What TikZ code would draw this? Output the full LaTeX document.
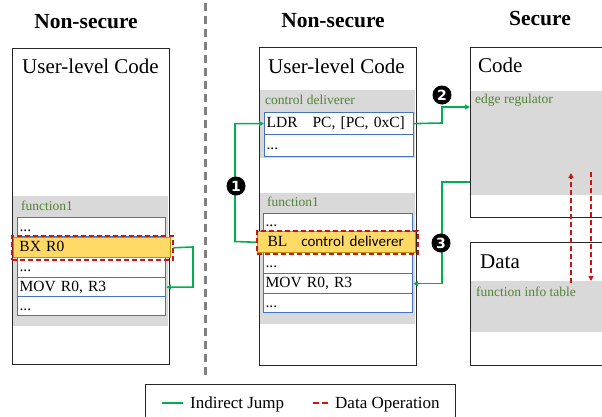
\documentclass[tikz,border=0pt]{standalone}
\usepackage{fontspec}
\setmainfont{Liberation Serif}
\newfontfamily\calfont{Carlito}
\newfontfamily\numfont{DejaVu Sans}
\usetikzlibrary{arrows.meta}
\definecolor{gbg}{RGB}{217,217,217}
\definecolor{rowblue}{RGB}{68,114,196}
\definecolor{lblgreen}{RGB}{84,130,53}
\definecolor{jump}{RGB}{0,176,80}
\definecolor{dataop}{RGB}{204,20,20}
\definecolor{hlfill}{RGB}{255,217,102}
\definecolor{hldraw}{RGB}{191,144,0}
\definecolor{divider}{RGB}{128,128,128}
\begin{document}
\begin{tikzpicture}[x=1pt,y=-1pt,
  panel/.style={draw=black!85, line width=1.4pt, fill=white, anchor=north west, inner sep=0pt},
  region/.style={fill=gbg, draw=none, anchor=north west, inner sep=0pt},
  row/.style={draw=rowblue, line width=1.2pt, fill=white, anchor=north west,
    inner xsep=2pt, inner ysep=0pt, text height=11pt, text depth=3pt, align=left,
    font=\fontsize{15.5}{15.5}\selectfont},
  hlbox/.style={fill=hlfill, draw=hldraw, line width=1pt, anchor=north west,
    inner xsep=6pt, inner ysep=0pt, text height=11pt, text depth=3pt, align=left,
    font=\fontsize{15.5}{15.5}\selectfont},
  redbox/.style={draw=dataop, line width=1.5pt, dash pattern=on 5pt off 3pt, anchor=north west, inner sep=0pt},
  title/.style={anchor=base, inner sep=0pt, font=\bfseries\fontsize{21.5}{21.5}\selectfont},
  head/.style={anchor=base west, inner sep=0pt, font=\fontsize{21}{21}\selectfont},
  glabel/.style={anchor=base west, text=lblgreen, font=\fontsize{13.5}{13.5}\selectfont, inner sep=0pt},
  jumpline/.style={draw=jump, line width=1.6pt},
  jumparrow/.style={jumpline, -{Triangle[length=5pt,width=5pt]}},
  dataline/.style={draw=dataop, line width=1.5pt, dash pattern=on 5pt off 3pt, -{Triangle[length=5pt,width=5pt]}},
  numcirc/.style={circle, fill=black, text=white, inner sep=0pt, minimum size=19pt,
    font=\numfont\bfseries\fontsize{14}{14}\selectfont},
  legtext/.style={anchor=base west, font=\fontsize{17}{17}\selectfont, inner sep=0pt}
]
\useasboundingbox (0,0) rectangle (602,416);

% titles
\node[title] (t1) at (86,28) {Non-secure};
\node[title] (t2) at (333,27) {Non-secure};
\node[title] (t3) at (540,25) {Secure};

% divider
\draw[divider, line width=3pt, dash pattern=on 8pt off 5pt] (205,3) -- (205,377);

% ---------- left panel ----------
\node[panel, minimum width=157pt, minimum height=316pt] (lpanel) at (12,48) {};
\node[head] (lhead) at (22,73) {User-level Code};
\node[region, minimum width=155pt, minimum height=130pt] (lreg) at (13,196) {};
\node[glabel] (lf1) at (21,210) {function1};
\node[row, text width=144pt, minimum height=19pt] (l1) at (17,217) {...};
\node[row, text width=144pt, minimum height=21pt] (l2) at (17,236) {};
\node[row, text width=144pt, minimum height=20pt] (l3) at (17,257) {...};
\node[row, text width=144pt, minimum height=19pt] (l4) at (17,277) {MOV R0, R3};
\node[row, text width=144pt, minimum height=19pt] (l5) at (17,296) {...};
\node[hlbox, text width=145pt, minimum height=20pt] (hlL) at (13,237) {BX R0};
\node[redbox, minimum width=161pt, minimum height=24pt] (rdL) at (11,235) {};
\draw[jumparrow] (rdL.east) -- (193,247) |- (l4.east);

% ---------- middle panel ----------
\node[panel, minimum width=157pt, minimum height=318pt] (mpanel) at (259,47) {};
\node[head] (mhead) at (268,73) {User-level Code};
\node[region, minimum width=155pt, minimum height=68pt] (mreg1) at (260,90) {};
\node[glabel] (mcd) at (265,104) {control deliverer};
\node[row, text width=145pt, minimum height=22pt] (ldr) at (264,112) {LDR\hspace{15pt}PC, [PC, 0xC]};
\node[row, text width=145pt, minimum height=22pt] (ld2) at (264,134) {...};
\node[region, minimum width=155pt, minimum height=131pt] (mreg2) at (260,193) {};
\node[glabel] (mf1) at (267,206) {function1};
\node[row, text width=145pt, minimum height=18pt] (m1) at (263,213) {...};
\node[row, text width=145pt, minimum height=21pt] (m2) at (263,231) {};
\node[row, text width=145pt, minimum height=21pt] (m3) at (263,252) {...};
\node[row, text width=145pt, minimum height=20pt] (m4) at (263,273) {MOV R0, R3};
\node[row, text width=145pt, minimum height=19pt] (m5) at (263,293) {...};
\node[hlbox, inner xsep=10pt, text width=138pt, minimum height=21pt] (hlM) at (257,231)
  {BL\hspace{14pt}{\calfont\fontsize{15}{15}\selectfont control deliverer}};
\node[redbox, minimum width=161pt, minimum height=23pt] (rdM) at (256,230) {};

% ---------- secure side ----------
\node[panel, minimum width=142pt, minimum height=170pt] (code) at (470,47) {};
\node[head] (chead) at (478,72) {Code};
\node[region, minimum width=135pt, minimum height=104pt] (creg) at (471,91) {};
\node[glabel] (edge) at (475,103) {edge regulator};
\node[panel, minimum width=142pt, minimum height=123pt] (data) at (470,242) {};
\node[head] (dhead) at (480,268) {Data};
\node[region, minimum width=135pt, minimum height=51pt] (dreg) at (471,281) {};
\node[glabel] (fit) at (476,296) {function info table};

% ---------- jumps ----------
\coordinate (codeIn) at (470,107);
\coordinate (codeOut) at (470,182);
\draw[jumparrow] (rdM.west) -- (235,241.5) |- (ldr.west);
\draw[jumparrow] (ldr.east) -- (442,123) |- (codeIn);
\draw[jumparrow] (codeOut) -- (442,182) |- (m4.east);
\node[numcirc] (n1) at (236,186) {1};
\node[numcirc] (n2) at (442,95) {2};
\node[numcirc] (n3) at (441,243) {3};

% ---------- data operations ----------
\coordinate (dUpS) at (571,283);
\coordinate (dUpE) at (571,173);
\coordinate (dDnS) at (591,172);
\coordinate (dDnE) at (591,281);
\draw[dataline] (dUpS) -- (dUpE);
\draw[dataline] (dDnS) -- (dDnE);

% ---------- legend ----------
\node[panel, minimum width=310pt, minimum height=40pt] (legend) at (145,384) {};
\coordinate (lg1a) at (162,403);
\coordinate (lg1b) at (183,403);
\draw[jumpline, line width=2.2pt] (lg1a) -- (lg1b);
\node[legtext] (lgt1) at (190,408) {Indirect Jump};
\coordinate (lg2a) at (313,403);
\coordinate (lg2b) at (330,403);
\draw[draw=dataop, line width=2.2pt, dash pattern=on 6pt off 3pt] (lg2a) -- (lg2b);
\node[legtext] (lgt2) at (335,408) {Data Operation};
\end{tikzpicture}
\end{document}
